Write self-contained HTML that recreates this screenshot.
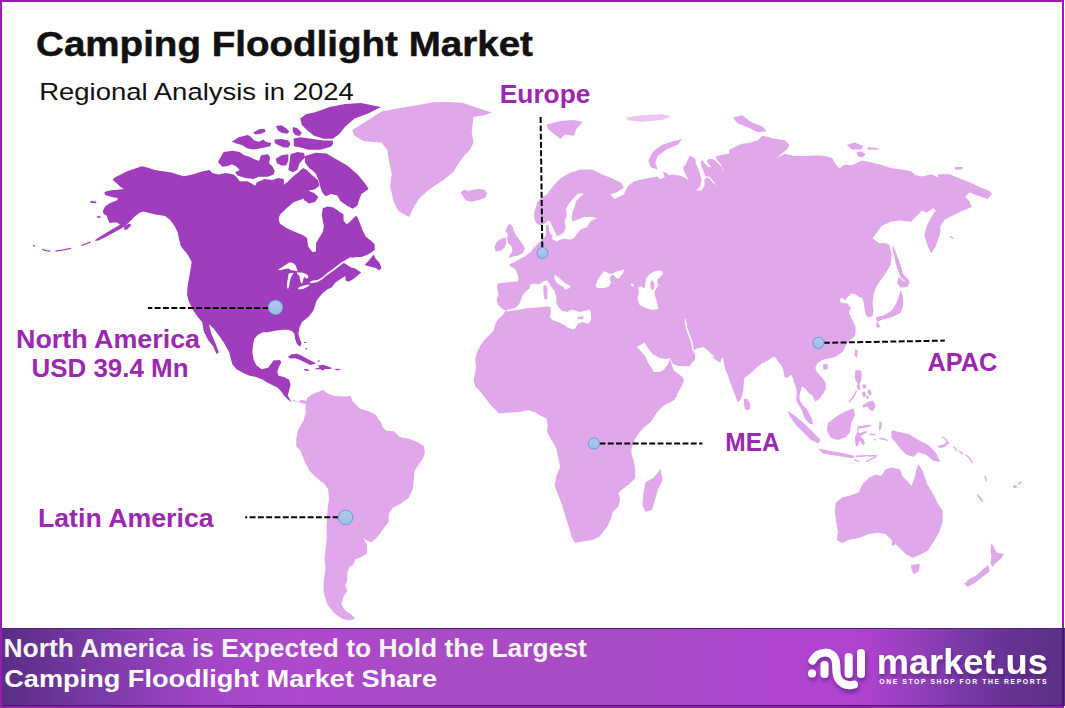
<!DOCTYPE html>
<html><head><meta charset="utf-8">
<style>
html,body{margin:0;padding:0;}
body{width:1065px;height:708px;position:relative;overflow:hidden;background:#fff;font-family:"Liberation Sans",sans-serif;}
.abs{position:absolute;white-space:nowrap;}
#banner{position:absolute;left:2px;top:628px;width:1063px;height:78px;box-sizing:border-box;border-top:1px solid #4f1f7c;
 background:linear-gradient(90deg,#5a2e86 0%,#7a3aa6 9%,#a246c6 19%,#ae48cc 28%,#a84bc4 40%,#a84bc4 60%,#b046d0 73%,#b042d0 81%,#9440bc 86%,#7a3aa6 90%,#663392 95%,#5c3186 100%);}
#frame{position:absolute;left:0;top:0;width:1060px;height:704px;border:2px solid #9a1eae;}
</style></head><body>
<div id="frame"></div>
<svg width="1065" height="708" style="position:absolute;left:0;top:0">
<polygon points="534.4,219.4 534.1,213.0 535.5,208.0 537.8,201.2 542.0,197.5 546.8,194.4 553.6,185.4 560.4,178.6 569.4,173.0 580.7,169.6 592.0,169.6 601.1,174.1 612.4,178.6 621.4,183.1 623.7,187.7 616.9,192.2 610.1,194.4 614.6,199.0 623.7,194.4 628.2,185.4 635.0,180.9 646.3,178.6 657.6,176.4 660.0,179.5 665.9,176.5 671.9,174.5 679.8,175.5 684.7,177.5 688.7,180.4 687.7,178.5 685.7,174.5 683.7,170.6 683.2,167.6 685.7,164.6 687.7,159.7 689.7,155.7 692.6,156.7 695.6,159.7 695.6,163.6 697.6,167.6 699.6,172.5 701.5,179.5 700.6,185.4 697.6,189.3 694.6,190.3 701.5,190.6 704.5,185.4 704.5,179.5 706.5,177.5 709.5,178.5 712.4,182.4 716.4,185.4 713.4,181.4 709.5,176.5 705.5,176.5 703.5,171.5 701.5,166.6 700.6,161.7 702.5,159.7 704.5,163.6 707.5,166.6 711.4,167.6 708.5,163.6 706.5,160.7 709.5,158.7 714.4,159.7 718.4,163.6 721.3,166.6 723.3,170.6 724.3,171.5 722.3,167.6 720.3,163.6 717.4,160.7 715.4,156.7 721.3,154.7 729.2,153.7 729.2,149.8 735.2,146.8 742.1,143.8 749.0,142.9 757.8,140.2 762.3,135.7 766.8,136.8 775.9,139.1 784.9,140.2 789.4,144.7 787.2,149.2 775.9,158.3 784.9,153.8 794.0,156.0 803.0,156.0 816.6,155.6 825.6,156.0 832.4,158.3 834.6,162.8 839.2,168.4 843.7,165.1 852.7,165.1 861.8,160.5 870.5,162.3 881.8,165.1 890.8,168.0 901.0,169.6 911.0,171.3 915.7,175.3 922.5,176.5 931.2,174.2 938.0,177.6 938.0,174.2 949.3,174.2 960.6,178.8 971.9,183.3 980.9,187.8 987.7,190.1 992.2,193.4 987.7,199.1 980.9,196.8 974.2,194.6 969.6,192.3 965.1,196.8 969.6,201.4 971.9,207.0 962.9,210.4 953.8,214.9 944.8,219.4 940.3,226.2 940.3,233.0 935.7,246.6 931.2,253.3 927.8,246.6 924.4,235.3 926.7,226.2 931.2,217.2 935.7,210.4 933.5,208.1 926.7,212.7 922.2,210.4 915.4,217.2 910.9,221.7 899.6,220.6 890.5,221.7 881.5,226.2 872.5,238.6 879.2,243.2 886.0,243.2 889.4,244.9 891.7,253.9 890.6,265.2 884.9,274.2 879.3,282.1 875.9,287.8 873.6,294.6 872.5,303.6 873.6,310.4 872.5,316.0 868.0,317.2 865.7,314.9 864.6,308.1 863.4,301.4 862.3,298.0 858.9,296.8 855.5,294.6 852.1,293.4 847.6,296.8 845.4,300.2 842.0,298.0 839.7,299.1 840.8,302.5 847.6,303.6 851.0,308.1 848.8,312.7 852.1,319.4 855.5,326.2 855.5,333.0 854.9,336.0 847.5,342.2 842.6,352.0 835.0,357.1 830.1,358.2 824.8,359.2 821.6,360.3 817.4,363.5 815.3,367.7 816.3,370.9 819.5,375.1 822.7,378.3 825.9,383.6 825.9,388.9 822.7,394.2 818.5,399.5 815.3,401.6 812.1,395.3 808.9,393.2 805.7,388.9 802.6,386.8 801.5,387.0 800.4,392.1 799.4,397.4 800.4,401.6 803.6,405.9 806.8,409.1 809.5,414.0 812.0,419.0 813.2,424.4 810.0,423.9 806.8,420.7 804.0,417.0 802.6,412.0 800.4,407.5 797.3,403.0 796.2,399.5 796.7,393.2 796.2,387.9 794.1,382.6 793.0,378.3 790.9,374.6 787.7,377.8 784.5,377.3 783.5,370.9 781.4,365.6 778.2,361.4 775.0,357.1 772.9,357.2 768.3,360.2 762.3,363.2 756.3,367.8 750.2,373.8 744.2,378.3 743.1,391.5 740.4,400.5 737.7,402.3 735.0,395.1 731.5,386.1 727.9,375.3 724.9,368.6 723.8,361.8 722.7,357.3 721.5,358.4 720.4,362.4 717.0,360.7 712.5,357.3 714.7,356.2 711.4,353.9 708.0,350.5 703.4,347.1 697.8,348.2 693.3,350.5 695.5,356.2 695.0,359.5 691.6,362.9 689.9,366.3 683.1,366.3 677.5,365.8 672.9,364.1 670.7,358.2 671.8,365.2 674.1,370.8 678.6,374.2 682.0,376.5 684.2,379.9 682.0,385.5 678.6,391.2 676.3,396.8 674.1,400.0 670.5,402.3 663.3,405.8 657.9,411.2 650.7,422.0 645.0,426.6 639.0,433.1 635.2,438.8 631.5,448.2 631.5,453.8 634.3,463.2 635.2,468.8 635.2,478.2 629.6,483.8 622.1,489.5 618.3,493.2 620.2,498.9 618.3,506.4 612.7,512.0 610.8,519.5 607.0,527.0 599.5,536.4 592.0,540.2 584.5,541.1 575.1,543.0 571.4,536.4 569.5,528.9 565.7,517.7 562.0,504.5 558.2,495.1 554.5,485.7 556.3,476.3 560.1,466.9 558.2,457.6 556.3,448.2 550.7,438.8 547.0,431.3 547.8,425.0 546.4,418.6 539.7,415.3 534.6,411.9 527.8,410.2 519.3,411.9 507.5,412.7 499.0,413.6 492.2,406.8 485.4,398.3 480.3,391.5 475.3,386.4 473.6,379.7 476.1,367.8 475.3,359.3 476.9,352.5 480.3,345.8 483.7,340.7 488.8,335.6 493.9,330.5 494.7,325.4 497.3,320.3 502.4,315.3 505.8,310.8 501.6,308.3 498.2,304.9 496.5,299.3 498.7,294.8 497.0,288.0 497.6,283.5 501.6,282.9 508.3,282.3 515.1,281.8 517.9,281.2 518.5,278.9 518.0,275.5 516.8,272.2 515.1,268.8 510.6,266.5 508.9,264.2 514.0,262.6 516.2,260.9 520.8,258.6 525.3,256.3 527.5,254.1 530.9,251.8 533.2,248.4 535.5,246.2 538.8,242.8 541.1,240.5 543.5,239.0 545.4,236.0 545.8,231.0 546.2,225.5 544.0,226.5 540.5,226.0 537.0,224.0" fill="#e0a8eb"/>
<polygon points="505.6,310.2 511.0,309.0 516.0,307.4 519.7,303.2 521.6,297.5 524.4,292.8 530.0,288.1 530.0,284.4 533.8,283.5 538.5,284.4 543.2,281.6 546.0,280.2 548.8,282.5 550.7,286.3 554.5,291.0 556.3,296.6 556.3,302.2 558.2,306.9 562.0,310.7 567.6,312.1 571.4,309.7 575.1,310.7 579.8,312.1 584.5,310.7 590.1,309.7 591.1,314.4 591.1,320.1 588.3,323.8 582.6,322.0 577.9,323.8 575.1,328.5 573.2,329.5 567.6,327.6 563.8,324.8 558.2,321.9 552.6,320.1 549.8,317.3 550.7,312.6 550.7,306.9 546.0,306.5 537.6,307.4 528.2,307.9 518.8,309.7 511.3,310.7 507.5,311.6" fill="#ffffff"/>
<polygon points="577.0,317.5 581.0,316.3 584.5,316.8 582.0,319.0 578.0,319.1" fill="#e0a8eb"/>
<polygon points="543.4,285.7 546.0,285.0 547.5,290.0 547.3,299.3 544.5,299.5 543.5,293.0" fill="#e0a8eb"/>
<polygon points="554.5,275.0 558.2,276.9 562.0,280.6 565.7,283.5 569.5,285.3 570.4,287.2 567.6,289.1 564.8,290.0 563.8,287.2 560.1,285.3 556.3,282.5 554.5,278.8" fill="#ffffff"/>
<polygon points="595.4,286.4 596.2,283.3 598.5,278.6 601.7,274.0 604.0,271.3 607.1,272.4 610.2,274.0 613.3,273.2 615.6,271.7 619.5,270.9 624.2,269.3 623.4,272.4 621.1,275.5 618.7,278.6 616.4,277.9 614.1,275.5 611.7,274.8 609.8,277.9 610.6,282.5 609.4,286.4 604.0,288.0 597.8,288.0" fill="#ffffff"/>
<polygon points="638.2,287.2 641.3,286.4 644.4,288.5 645.9,280.2 645.9,278.6 649.0,274.8 653.7,271.7 658.3,270.5 662.2,270.9 663.0,274.0 659.9,277.1 656.8,280.2 658.3,285.6 656.0,288.7 654.5,291.5 654.5,294.2 656.0,298.8 657.6,305.0 658.3,308.9 652.1,309.7 645.9,308.2 639.7,305.0 637.4,298.8 638.9,293.4" fill="#ffffff"/>
<polygon points="650.6,281.0 653.0,280.2 654.5,284.0 654.0,289.5 651.5,290.0 650.3,286.0" fill="#e0a8eb"/>
<polygon points="630.5,283.5 633.0,283.8 634.3,286.0 632.0,286.4" fill="#ffffff"/>
<polygon points="558.9,235.5 563.4,233.0 565.7,227.3 564.6,221.6 566.8,214.9 565.7,209.2 569.1,203.6 573.6,197.9 578.1,193.4 583.8,193.4 580.4,196.8 575.9,201.3 574.7,206.9 572.5,212.6 571.4,217.1 572.5,221.6 578.1,219.4 583.8,217.1 591.7,217.1 597.3,218.2 591.7,220.5 589.4,222.8 587.2,227.3 582.7,228.4 579.3,230.7 575.9,235.2 573.6,238.6 569.1,239.7 564.6,238.6 560.1,239.7 556.7,241.5 553.3,239.7 551.5,237.5 553.0,236.0 556.0,236.5" fill="#ffffff"/>
<polygon points="537.5,224.0 540.8,225.5 545.4,223.3 548.0,220.5 550.0,221.5 551.5,224.5 553.3,228.4 555.5,232.9 557.5,235.5 553.0,236.0 550.5,234.0 549.0,229.0 548.5,225.0 546.5,224.5 544.0,227.0 540.0,227.0" fill="#ffffff"/>
<polygon points="636.8,347.1 644.7,342.6 648.1,348.2 652.6,353.9 658.2,357.3 663.9,359.0 668.4,358.4 670.7,357.9 669.5,360.7 667.3,365.2 663.9,369.7 659.4,372.0 653.7,372.0 651.5,367.5 648.1,362.9 645.8,357.3 641.3,351.6" fill="#ffffff"/>
<polyline points="685.4,320.0 686.5,328.0 689.5,336.0 692.0,343.0 693.0,350.0" fill="none" stroke="#fff" stroke-width="1.6" stroke-linecap="round" stroke-linejoin="round"/>
<polygon points="352.3,129.9 367.0,120.7 381.7,111.5 400.1,107.9 418.4,105.1 433.1,102.3 447.8,102.0 462.5,102.7 471.7,106.0 491.9,112.4 484.5,115.2 473.5,117.0 471.7,131.7 473.5,142.7 469.8,150.1 464.3,155.6 458.8,162.9 453.3,172.1 444.1,179.5 433.1,186.8 425.8,192.3 418.4,199.6 412.9,208.8 409.3,217.1 403.7,214.3 398.2,210.7 393.7,201.5 390.0,186.8 391.8,173.9 389.1,161.1 387.2,150.1 381.7,142.7 363.4,140.9 354.2,135.4" fill="#e0a8eb"/>
<polygon points="460.6,192.3 464.5,189.5 468.0,191.0 473.0,189.8 479.0,188.8 484.5,189.8 487.0,193.0 485.5,197.5 479.0,200.0 472.0,201.8 466.0,200.5 463.0,196.5" fill="#e0a8eb"/>
<polygon points="508.1,225.0 510.3,223.9 512.6,226.2 513.7,230.7 516.0,235.2 519.4,239.7 522.8,244.2 525.0,248.8 522.8,253.3 518.2,255.5 512.6,256.7 508.1,257.8 510.3,254.4 512.6,251.0 511.5,246.5 508.1,243.1 506.9,238.6 508.1,235.2 505.8,230.7 506.9,227.3" fill="#e0a8eb"/>
<polygon points="496.8,242.0 501.3,238.6 505.8,237.5 506.4,243.1 504.7,247.6 500.2,251.0 495.6,251.6 494.5,246.5" fill="#e0a8eb"/>
<polygon points="546.8,124.4 560.4,121.0 574.0,119.9 583.0,122.1 576.2,128.9 574.0,135.7 564.9,134.5 560.4,139.1 553.6,133.4 548.0,128.9" fill="#e0a8eb"/>
<polygon points="625.9,117.6 641.8,115.3 662.1,114.2 671.1,116.5 662.1,119.9 641.8,121.7 628.2,120.3" fill="#e0a8eb" fill-opacity="0.65"/>
<polygon points="682.4,139.1 673.4,141.3 662.1,144.7 653.0,151.5 648.5,160.5 650.8,167.3 657.6,169.6 655.3,162.8 657.6,156.0 666.6,149.2 677.9,144.7" fill="#e0a8eb"/>
<polygon points="732.9,117.6 742.0,115.3 751.0,122.1 762.3,126.6 766.8,131.2 757.8,132.3 748.8,127.8 737.5,123.2" fill="#e0a8eb"/>
<polygon points="846.5,144.9 854.4,142.6 863.4,146.0 861.2,149.4 852.1,149.4" fill="#e0a8eb"/>
<polygon points="867.9,147.1 879.2,148.2 877.0,149.8 867.9,149.4" fill="#e0a8eb"/>
<polygon points="954.9,167.0 962.9,167.0 962.0,169.6 954.9,169.8" fill="#e0a8eb"/>
<polygon points="856.6,152.0 861.0,151.6 865.7,154.0 863.0,157.3 858.0,156.5" fill="#e0a8eb"/>
<polyline points="950.5,236.5 953.0,238.5" fill="none" stroke="#e0a8eb" stroke-width="1.4" stroke-linecap="round"/>
<polygon points="892.8,244.9 895.0,250.0 898.0,258.0 901.0,266.0 903.0,274.0 909.8,281.0 907.0,282.5 900.5,277.0 897.0,268.0 894.5,258.0 892.5,250.0" fill="#e0a8eb"/>
<polygon points="898.5,276.5 903.0,281.0 909.8,282.1 907.5,286.7 900.7,287.8 897.3,283.3" fill="#e0a8eb"/>
<polygon points="900.7,290.1 903.0,296.8 903.0,305.9 900.7,312.7 891.7,317.2 882.7,319.4 877.0,321.7 875.9,317.2 884.9,314.9 891.7,310.4 896.2,303.6 898.5,296.8" fill="#e0a8eb"/>
<polygon points="877.0,321.7 880.4,326.2 878.1,328.5 875.9,325.1" fill="#e0a8eb"/>
<polygon points="855.5,348.8 857.8,351.1 856.7,357.9 854.4,355.6" fill="#e0a8eb"/>
<polygon points="823.0,364.5 827.5,364.0 828.0,369.0 823.5,370.0" fill="#e0a8eb"/>
<polygon points="855.5,370.1 861.0,370.5 861.7,375.5 861.0,381.0 859.4,384.1 860.2,389.5 858.6,390.3 856.7,387.2 857.9,383.3 855.5,380.2 854.8,377.1" fill="#e0a8eb"/>
<polygon points="862.5,384.8 866.0,384.5 866.5,387.5 864.0,389.0 863.0,388.0" fill="#e0a8eb"/>
<polygon points="867.5,389.5 870.5,390.0 871.8,393.4 870.0,396.0 868.0,393.0" fill="#e0a8eb"/>
<polygon points="862.0,392.0 865.0,391.5 866.0,395.0 864.0,397.5 862.5,396.0" fill="#e0a8eb"/>
<polygon points="866.5,395.5 869.0,396.5 868.5,399.0 866.0,398.5" fill="#e0a8eb"/>
<polygon points="868.0,401.9 872.6,400.4 874.9,403.5 874.9,407.4 872.6,411.2 869.5,409.7 867.2,406.6 863.3,407.4 862.5,405.0 865.6,403.5" fill="#e0a8eb"/>
<polyline points="849.3,401.9 853.2,397.3 855.5,392.6 856.3,391.1" fill="none" stroke="#e0a8eb" stroke-width="1.4" stroke-linecap="round"/>
<polygon points="828.0,422.9 837.8,415.5 847.5,410.6 853.6,408.2 854.9,415.5 851.2,422.9 850.0,432.6 845.1,437.5 837.8,440.0 830.4,437.5 826.8,430.2" fill="#e0a8eb"/>
<polygon points="787.7,410.6 796.2,416.8 806.0,425.3 813.3,432.6 820.6,440.0 818.2,443.6 810.9,440.0 803.5,432.6 796.2,425.3 790.1,416.8" fill="#e0a8eb"/>
<polygon points="818.2,448.5 830.4,451.0 845.1,453.4 854.9,455.9 852.4,458.3 837.8,455.9 823.1,453.4" fill="#e0a8eb"/>
<polygon points="856.0,455.5 866.0,454.9 877.0,455.0 877.0,456.6 866.0,456.6 856.0,457.3" fill="#e0a8eb"/>
<polygon points="857.8,426.3 864.1,425.6 871.2,424.5 870.5,426.3 865.5,427.7 858.8,428.6 858.2,431.0 859.2,433.6 864.1,431.6 867.0,430.8 866.5,432.8 862.7,434.8 860.5,436.5 863.4,439.0 865.0,443.2 863.4,445.6 861.0,442.5 859.5,440.5 857.8,446.1 855.6,446.1 854.9,437.6 857.1,432.0 857.5,428.4" fill="#e0a8eb"/>
<polygon points="879.0,422.2 881.8,421.5 881.5,426.0 880.0,431.0 878.5,429.0 879.5,425.0" fill="#e0a8eb"/>
<polyline points="870.0,434.2 874.5,434.8" fill="none" stroke="#e0a8eb" stroke-width="1.4" stroke-linecap="round"/>
<polyline points="880.0,438.5 884.0,439.0 887.2,440.3" fill="none" stroke="#e0a8eb" stroke-width="1.4" stroke-linecap="round"/>
<polygon points="873.8,439.0 875.6,439.0 875.6,440.6 873.8,440.6" fill="#e0a8eb"/>
<polyline points="866.9,461.4 871.0,459.0 876.1,456.7" fill="none" stroke="#e0a8eb" stroke-width="1.4" stroke-linecap="round"/>
<polyline points="854.5,459.8 858.8,461.3" fill="none" stroke="#e0a8eb" stroke-width="1.4" stroke-linecap="round"/>
<polygon points="891.5,430.2 901.3,432.6 908.6,433.9 918.4,440.0 928.2,444.9 935.5,452.2 940.4,462.0 933.1,460.7 925.7,454.6 918.4,452.2 913.5,457.1 906.2,454.6 901.3,449.7 896.4,443.6 891.5,437.5" fill="#e0a8eb"/>
<polygon points="744.2,398.5 747.5,399.0 750.0,404.0 750.3,408.5 748.0,410.5 745.0,409.0 743.8,404.0" fill="#e0a8eb"/>
<polygon points="660.4,468.5 662.5,480.2 658.3,488.6 655.1,499.2 651.9,509.8 645.6,512.0 642.4,505.6 643.4,492.9 645.6,482.3 653.0,478.0 657.2,473.8" fill="#e0a8eb"/>
<polygon points="835.8,502.7 842.0,497.5 850.3,495.5 858.6,492.4 862.7,484.1 869.0,477.8 875.2,474.7 881.4,475.8 885.6,469.5 891.8,467.5 900.1,469.5 902.2,475.8 906.3,479.9 911.5,486.1 914.6,477.8 916.7,467.5 918.8,464.3 922.9,471.6 927.1,484.1 933.3,494.4 937.5,502.7 942.6,511.0 942.6,521.4 939.5,531.8 933.3,542.2 928.1,550.5 920.9,554.6 912.6,557.7 906.3,554.6 900.1,548.4 895.9,544.2 891.8,546.3 891.8,540.1 885.6,533.9 877.3,532.8 869.0,533.9 858.6,538.0 848.2,540.1 842.0,543.2 836.8,540.1 837.8,531.8 835.8,519.3 834.7,511.0" fill="#e0a8eb"/>
<polygon points="910.5,565.0 919.8,564.0 918.8,571.2 913.6,574.3 911.5,569.2" fill="#e0a8eb"/>
<polygon points="991.4,543.2 993.5,546.3 996.6,552.5 1003.9,554.2 1000.8,558.8 995.6,563.0 992.5,567.1 990.4,563.0 991.4,556.7 990.4,550.5" fill="#e0a8eb"/>
<polygon points="988.3,565.0 989.8,571.2 981.0,578.0 974.8,583.0 967.6,587.0 964.4,583.7 968.6,579.5 976.9,575.0 984.2,568.1" fill="#e0a8eb"/>
<polygon points="936.9,446.8 941.2,447.9 945.4,446.6 948.6,442.6 946.8,441.4 944.0,444.2 939.8,445.4" fill="#e0a8eb"/>
<polyline points="942.6,437.0 946.0,439.5 948.9,443.3" fill="none" stroke="#e0a8eb" stroke-width="1.4" stroke-linecap="round"/>
<polyline points="953.9,446.8 956.7,450.4" fill="none" stroke="#e0a8eb" stroke-width="1.4" stroke-linecap="round"/>
<polyline points="959.5,451.1 962.4,453.9" fill="none" stroke="#e0a8eb" stroke-width="1.4" stroke-linecap="round"/>
<polyline points="966.0,455.0 969.4,458.1 972.2,462.4" fill="none" stroke="#e0a8eb" stroke-width="1.4" stroke-linecap="round"/>
<polyline points="985.0,476.5 986.4,480.7" fill="none" stroke="#e0a8eb" stroke-width="1.4" stroke-linecap="round"/>
<polygon points="976.0,494.0 978.5,495.0 983.5,501.0 982.0,502.2" fill="#e0a8eb"/>
<polygon points="1013.0,485.5 1016.5,485.3 1016.8,487.8 1013.5,488.0" fill="#e0a8eb"/>
<polyline points="1018.5,484.0 1021.0,482.1" fill="none" stroke="#e0a8eb" stroke-width="1.4" stroke-linecap="round"/>
<polygon points="663.0,171.5 667.9,173.5 669.9,177.5 665.9,179.5 664.0,175.5" fill="#e0a8eb"/>
<polygon points="291.0,400.5 294.0,400.0 298.0,402.0 302.0,399.5 306.0,401.0 307.6,397.5 313.2,393.8 320.7,391.0 323.5,390.0 326.3,392.8 333.8,395.7 345.1,396.6 350.8,395.7 352.6,401.3 360.1,408.8 369.5,411.6 375.2,414.4 380.8,422.0 382.7,427.6 386.4,430.4 393.9,431.3 399.6,437.0 409.0,438.8 418.4,442.6 424.0,446.4 424.9,453.9 422.1,459.5 418.4,465.1 414.6,470.8 413.7,482.0 412.7,489.6 408.6,497.9 400.7,503.8 392.8,507.8 388.8,513.7 388.8,521.6 382.9,529.5 377.0,537.4 371.0,542.4 365.1,539.4 363.1,537.4 367.1,545.3 367.1,553.2 361.1,557.2 355.2,559.2 353.2,565.1 349.3,567.1 347.3,573.0 347.3,580.9 345.3,584.9 347.3,590.8 343.4,596.7 341.4,604.6 345.3,610.6 351.3,614.5 355.2,618.5 349.3,620.4 341.4,618.5 333.5,612.5 327.5,604.6 323.6,592.8 323.6,580.9 325.6,569.1 324.6,559.2 325.6,549.3 326.6,539.4 326.6,525.6 327.5,509.8 329.0,499.0 328.2,489.6 324.5,483.9 317.0,478.3 309.4,470.8 303.8,459.5 300.0,450.1 296.3,446.4 296.3,438.8 298.2,429.5 303.8,420.1 305.7,412.6 305.7,404.0" fill="#e0a8eb"/>
<polygon points="94.5,240.4 99.0,237.2 106.0,233.0 113.0,228.8 120.0,224.8 117.0,222.6 113.0,222.6 109.6,223.0 108.1,220.0 106.6,215.4 103.6,213.9 102.8,210.9 105.1,206.4 109.6,203.3 117.2,200.3 117.9,198.1 112.7,197.3 105.1,195.0 104.4,192.0 109.6,190.5 117.2,189.7 124.0,189.0 120.2,186.7 116.4,183.0 112.7,179.9 114.2,177.7 121.7,173.9 127.8,170.9 135.3,168.6 141.4,166.3 144.4,166.8 150.4,168.6 155.0,170.1 161.0,170.9 171.6,172.4 176.9,174.3 183.7,176.2 192.7,174.6 201.8,171.6 209.4,170.1 212.4,173.1 218.4,174.6 226.0,173.1 233.5,174.6 236.3,176.8 239.7,181.3 247.6,181.3 255.5,185.8 256.6,182.4 264.5,179.0 272.5,180.1 278.1,177.9 283.8,179.0 283.8,184.7 288.3,181.3 292.8,176.8 298.4,172.2 303.0,168.0 307.0,170.0 312.0,175.0 318.0,180.0 319.5,186.0 314.5,189.5 307.5,191.0 306.0,194.0 309.0,200.0 316.0,205.0 321.0,207.0 324.1,208.0 327.2,206.4 332.6,207.2 336.5,209.5 340.4,212.6 343.5,214.2 343.5,220.4 346.6,224.3 349.7,221.9 352.8,218.8 355.9,215.7 357.5,217.3 360.6,225.0 362.3,229.7 365.7,236.5 371.4,241.0 374.7,244.4 374.7,250.0 371.4,252.3 368.0,254.5 362.3,256.8 356.7,257.4 351.0,257.9 346.5,259.6 344.0,263.0 349.0,266.0 355.0,268.5 361.2,272.6 354.4,278.3 348.8,281.7 345.4,280.5 345.4,276.0 339.7,279.4 335.2,282.8 331.8,287.3 327.3,289.6 322.8,293.0 318.5,298.0 316.5,301.1 313.5,310.2 308.9,316.6 302.3,321.8 299.7,327.1 298.4,333.7 299.7,338.9 301.6,342.9 300.3,346.8 297.0,344.2 295.1,338.9 294.4,333.7 291.8,331.0 287.8,329.7 282.6,329.7 277.3,330.4 273.4,331.0 268.1,332.3 262.9,332.3 257.6,335.0 254.3,338.9 253.0,345.5 252.3,352.1 253.7,360.0 256.3,365.2 261.6,369.2 268.1,367.8 272.1,362.6 273.4,360.6 280.0,360.0 281.3,362.6 278.6,367.8 277.3,371.8 278.6,375.7 283.9,377.0 289.2,379.7 290.5,384.9 289.2,390.2 287.8,395.4 290.5,400.7 291.5,402.5 287.8,399.4 283.9,395.4 281.3,391.5 277.3,387.6 272.1,384.9 266.8,382.3 262.9,379.7 256.3,377.0 249.7,375.7 243.1,373.1 236.6,369.2 232.3,364.3 229.2,352.3 224.0,343.0 220.2,337.2 214.0,329.0 209.0,324.0 211.0,333.0 215.0,342.0 218.7,352.3 216.5,354.0 213.0,346.0 208.2,340.2 203.7,331.2 202.2,322.2 197.0,316.0 193.2,310.2 189.0,302.0 187.1,295.1 187.5,287.0 188.6,280.1 190.5,270.0 191.7,262.0 189.0,257.0 186.7,253.2 183.0,249.0 180.6,245.6 179.1,239.6 177.6,232.0 174.6,226.0 170.1,220.0 165.5,216.2 162.5,215.4 156.5,214.7 150.4,213.2 147.4,212.4 143.5,211.5 140.0,212.5 135.3,216.0 130.8,220.5 124.7,226.5 115.7,231.5 106.6,236.5 98.0,240.8" fill="#a03dbc"/>
<polygon points="280.0,214.7 286.8,208.0 293.6,202.3 302.6,198.9 307.0,193.0 307.5,191.2 314.5,189.8 319.8,186.0 318.3,179.8 312.0,174.7 307.0,169.5 315.0,170.0 325.0,173.0 333.0,178.0 338.0,185.0 343.0,192.0 345.0,198.0 343.0,203.0 337.0,204.5 330.0,204.5 323.0,205.5 322.9,207.9 321.8,214.7 322.9,221.5 323.9,226.3 322.8,232.0 319.4,237.6 316.0,243.2 316.0,251.2 312.6,252.3 308.1,246.6 307.0,238.0 302.6,235.1 294.7,231.7 286.8,228.3 280.0,223.8 278.5,219.0" fill="#ffffff"/>
<polygon points="351.0,257.9 358.0,257.0 364.0,258.0 362.0,262.0 358.0,266.0 352.0,268.0 347.5,265.0 346.0,262.0" fill="#ffffff"/>
<polygon points="277.9,269.7 282.4,266.9 286.9,264.0 289.8,262.3 293.2,262.9 295.4,265.2 297.1,269.1 297.7,271.4 295.4,270.8 291.5,270.3 288.6,268.6 284.7,269.1 280.7,270.3" fill="#ffffff"/>
<polygon points="288.6,273.6 291.5,273.1 293.7,272.5 292.6,274.8 290.9,277.6 289.8,281.6 289.2,286.1 288.1,288.9 287.0,287.8 287.0,283.2 288.1,277.6" fill="#ffffff"/>
<polygon points="296.6,272.5 301.6,272.5 305.0,273.6 307.9,275.3 308.4,277.6 306.7,278.7 304.5,277.0 303.3,278.7 302.8,282.1 301.6,283.8 300.5,281.6 299.9,278.7 299.4,275.9 297.7,274.2" fill="#ffffff"/>
<polygon points="297.7,288.3 300.5,286.6 303.9,285.5 308.4,284.4 310.1,284.9 306.7,287.2 302.8,288.9 299.4,289.5" fill="#ffffff"/>
<polygon points="309.5,282.1 312.9,280.4 317.5,279.9 318.0,282.1 314.1,282.7 310.7,283.2" fill="#ffffff"/>
<polyline points="317.5,281.0 322.0,278.5 327.3,274.0 333.0,270.0 337.5,266.5 342.0,263.0 346.5,260.5 351.0,258.0" fill="none" stroke="#fff" stroke-width="1.6" stroke-linecap="round" stroke-linejoin="round"/>
<polygon points="217.9,162.1 223.6,152.0 232.6,150.8 239.7,151.9 244.2,155.3 248.7,156.4 253.2,158.7 258.9,160.9 261.2,155.3 267.9,154.2 270.2,157.5 269.1,163.2 272.5,166.6 274.7,171.1 273.6,174.5 267.9,176.8 258.9,176.8 253.2,179.0 245.3,177.9 237.4,175.6 235.2,172.2 239.7,170.0 236.3,166.6 231.8,164.3 228.0,166.0 222.4,166.7" fill="#a03dbc"/>
<polygon points="231.8,141.7 238.6,137.2 247.6,135.0 249.9,136.1 254.4,140.6 258.9,141.7 263.4,139.5 265.7,141.7 271.3,142.9 270.2,146.2 264.5,147.4 258.9,148.5 253.2,149.6 247.6,148.5 242.0,145.1 236.3,143.4" fill="#a03dbc"/>
<polygon points="253.2,132.7 258.9,129.3 264.5,128.7 265.7,131.6 261.2,133.8 255.5,134.4" fill="#a03dbc"/>
<polygon points="275.8,125.9 281.5,125.3 286.0,128.2 289.4,131.6 287.1,133.8 281.5,132.7 278.1,130.4" fill="#a03dbc"/>
<polygon points="274.7,139.5 281.5,138.9 288.3,140.6 290.5,144.0 288.3,147.4 283.8,147.4 278.1,145.1 274.7,142.9" fill="#a03dbc"/>
<polygon points="275.8,158.7 281.5,155.3 288.3,154.2 288.3,160.9 286.0,165.5 281.5,165.5 277.0,163.2" fill="#a03dbc"/>
<polygon points="290.5,154.2 297.3,151.9 304.1,153.0 305.0,157.5 299.6,163.2 297.3,170.0 292.8,172.2 288.3,170.0 289.4,163.2" fill="#a03dbc"/>
<polygon points="292.8,127.0 297.3,128.2 301.8,132.7 299.6,136.1 295.1,134.9 292.8,131.6" fill="#a03dbc"/>
<polygon points="300.2,118.6 306.4,114.0 314.2,112.4 318.8,110.9 329.7,107.0 345.3,103.9 360.8,103.1 381.0,107.0 367.0,114.0 354.6,118.6 345.3,126.4 339.0,134.2 332.8,138.8 323.5,138.8 314.2,135.7 308.0,131.1 301.8,124.9" fill="#a03dbc"/>
<polygon points="293.6,138.4 300.4,137.3 311.1,138.8 323.5,140.4 332.8,140.4 333.0,144.0 331.3,146.6 320.4,149.7 308.0,149.7 302.7,148.0 293.9,146.2" fill="#a03dbc"/>
<polygon points="304.9,155.9 315.7,152.8 326.6,153.6 335.9,159.0 346.8,165.3 357.7,174.6 365.5,183.9 368.6,189.0 361.4,194.0 359.0,200.2 357.5,205.6 352.8,208.7 346.6,205.6 340.4,201.0 337.3,195.5 331.1,194.0 325.6,196.3 322.0,192.0 320.0,186.0 318.8,180.8 316.0,174.0 312.0,170.0 309.5,168.4 304.9,162.2" fill="#a03dbc"/>
<polygon points="302.6,191.0 308.0,190.5 314.0,193.0 318.4,197.0 315.0,202.0 309.0,203.4 304.0,200.0 302.0,195.0" fill="#a03dbc"/>
<polygon points="364.6,264.7 369.1,260.2 373.6,254.5 375.9,259.1 379.3,262.5 381.5,268.1 379.3,270.4 375.9,268.1 371.4,267.0 366.8,265.8" fill="#a03dbc"/>
<polygon points="287.8,356.8 291.8,354.2 297.0,353.8 302.3,356.0 307.6,358.9 314.1,362.3 315.6,363.8 310.2,364.9 305.2,362.6 300.1,360.0 295.0,358.2 290.5,358.6" fill="#a03dbc"/>
<polygon points="317.9,365.5 323.0,364.7 328.1,366.4 331.9,368.1 330.6,368.9 324.7,368.9 323.0,370.6 320.4,369.3 315.3,369.3 315.3,368.5 319.6,367.6" fill="#a03dbc"/>
<polygon points="303.9,368.9 307.7,369.3 309.8,370.6 306.9,371.0 304.3,370.2" fill="#a03dbc"/>
<polygon points="335.3,368.9 339.9,368.9 339.9,370.2 335.3,370.2" fill="#a03dbc"/>
<polygon points="303.9,342.0 306.9,342.2 306.9,343.0 303.9,343.0" fill="#a03dbc"/>
<polygon points="305.6,348.1 306.9,348.1 306.9,349.4 305.6,349.4" fill="#a03dbc"/>
<polygon points="317.9,360.4 319.6,360.4 319.6,361.7 317.9,361.7" fill="#a03dbc"/>
<polygon points="90.0,201.0 96.0,201.5 96.5,203.3 91.0,203.0" fill="#a03dbc"/>
<polygon points="97.0,216.2 100.6,216.2 100.6,217.7 97.0,217.7" fill="#a03dbc"/>
<polygon points="124.0,226.5 129.0,223.5 131.5,225.0 127.0,229.5 124.5,230.0" fill="#a03dbc"/>
<polyline points="90.1,242.2 85.5,244.0 81.8,245.3" fill="none" stroke="#a03dbc" stroke-width="1.3" stroke-linecap="round" stroke-dasharray="1.6 1.2"/>
<polyline points="70.5,248.4 63.0,250.0 56.0,251.0" fill="none" stroke="#a03dbc" stroke-width="1.3" stroke-linecap="round" stroke-dasharray="1.6 1.2"/>
<polyline points="49.8,251.2 46.0,250.6 42.6,249.4" fill="none" stroke="#a03dbc" stroke-width="1.3" stroke-linecap="round" stroke-dasharray="1.6 1.2"/>
<polyline points="33.6,245.6 34.2,245.9" fill="none" stroke="#a03dbc" stroke-width="1.3" stroke-linecap="round" stroke-dasharray="1.6 1.2"/>

<g stroke="#000" stroke-width="2" stroke-dasharray="5.9 2.4" fill="none">
 <line x1="268.5" y1="308.1" x2="148" y2="308.1"/>
 <line x1="542.3" y1="247.5" x2="540.6" y2="116.8"/>
 <line x1="824" y1="342.8" x2="944.8" y2="340.6"/>
 <line x1="599.5" y1="443.5" x2="702.5" y2="443.5"/>
 <line x1="338.5" y1="517.3" x2="245.2" y2="517.3"/>
</g>
<defs><linearGradient id="mk" x1="0" y1="0" x2="0" y2="1"><stop offset="0" stop-color="#b1cbe9"/><stop offset="1" stop-color="#9dbde6"/></linearGradient></defs>
<g fill="url(#mk)" stroke="#5b9fdc" stroke-width="1">
 <circle cx="275.5" cy="307.4" r="7.2"/>
 <circle cx="542.5" cy="253" r="5.5"/>
 <circle cx="818.5" cy="342.9" r="5.6"/>
 <circle cx="593.9" cy="443.5" r="5.6"/>
 <circle cx="345.6" cy="517.4" r="7.3"/>
</g>

</svg>
<div id="banner"></div>
<svg width="1065" height="708" style="position:absolute;left:0;top:0" font-family="Liberation Sans, sans-serif"><defs><filter id="sh2" x="-10%" y="-30%" width="120%" height="180%"><feDropShadow dx="1" dy="3" stdDeviation="2" flood-color="#3b0f5e" flood-opacity="0.5"/></filter></defs><text stroke="#111111" stroke-width="0.5" transform="translate(36.06,55.8) scale(1.1059,1)" font-size="34.86" font-weight="bold" fill="#111111">Camping Floodlight Market</text>
<text transform="translate(39.2,99.6) scale(1.1157,1)" font-size="24.64" font-weight="normal" fill="#111111">Regional Analysis in 2024</text>
<text transform="translate(499.82,102.9) scale(1.0456,1)" font-size="25.14" font-weight="bold" fill="#9c27b0">Europe</text>
<text transform="translate(15.99,348.0) scale(1.0742,1)" font-size="25.0" font-weight="bold" fill="#9c27b0">North America</text>
<text transform="translate(31.44,377.4) scale(1.0436,1)" font-size="24.86" font-weight="bold" fill="#9c27b0">USD 39.4 Mn</text>
<text transform="translate(927.39,371.0) scale(1.0029,1)" font-size="25.29" font-weight="bold" fill="#9c27b0">APAC</text>
<text transform="translate(725.33,450.6) scale(0.9794,1)" font-size="25.0" font-weight="bold" fill="#9c27b0">MEA</text>
<text transform="translate(37.9,527.1) scale(1.0393,1)" font-size="25.71" font-weight="bold" fill="#9c27b0">Latin America</text>
<text transform="translate(3.51,656.7) scale(1.045,1)" font-size="25.29" font-weight="bold" fill="#f4f4f4">North America is Expected to Hold the Largest</text>
<text transform="translate(4.21,686.6) scale(1.1317,1)" font-size="24.0" font-weight="bold" fill="#ffffff">Camping Floodlight Market Share</text>
<text filter="url(#sh2)" transform="translate(876.73,673.9) scale(1.0463,1)" font-size="34.63" font-weight="bold" fill="#ffffff">market.us</text>
<text x="879.3" y="683.7" font-size="6.86" font-weight="bold" fill="#fff" textLength="167.3" lengthAdjust="spacing">ONE STOP SHOP FOR THE REPORTS</text></svg>

<svg width="1065" height="708" style="position:absolute;left:0;top:0">
 <defs>
  <filter id="sh" x="-20%" y="-20%" width="140%" height="160%">
   <feDropShadow dx="1" dy="3" stdDeviation="2" flood-color="#3b0f5e" flood-opacity="0.55"/>
  </filter>
 </defs>
 <g filter="url(#sh)">
 <g fill="none" stroke="#fff" stroke-width="8" stroke-linecap="round">
  <path d="M812.5 660.5 C 818 651, 833 648.5, 836 662 L 836.5 672 C 837.5 684, 847 686.5, 854 684.5"/>
  <line x1="824.5" y1="665" x2="824.5" y2="674"/>
  <line x1="848.7" y1="657" x2="848.7" y2="674"/>
  <line x1="861" y1="653" x2="861" y2="674"/>
 </g>
 <circle cx="812" cy="673.4" r="4" fill="#fff"/>
 </g>
</svg>

<div style="position:absolute;left:1062px;top:628px;width:2px;height:78px;background:#4a1478"></div>
<div style="position:absolute;left:2px;top:705px;width:1060px;height:1px;background:#4a1478"></div>
</body></html>
